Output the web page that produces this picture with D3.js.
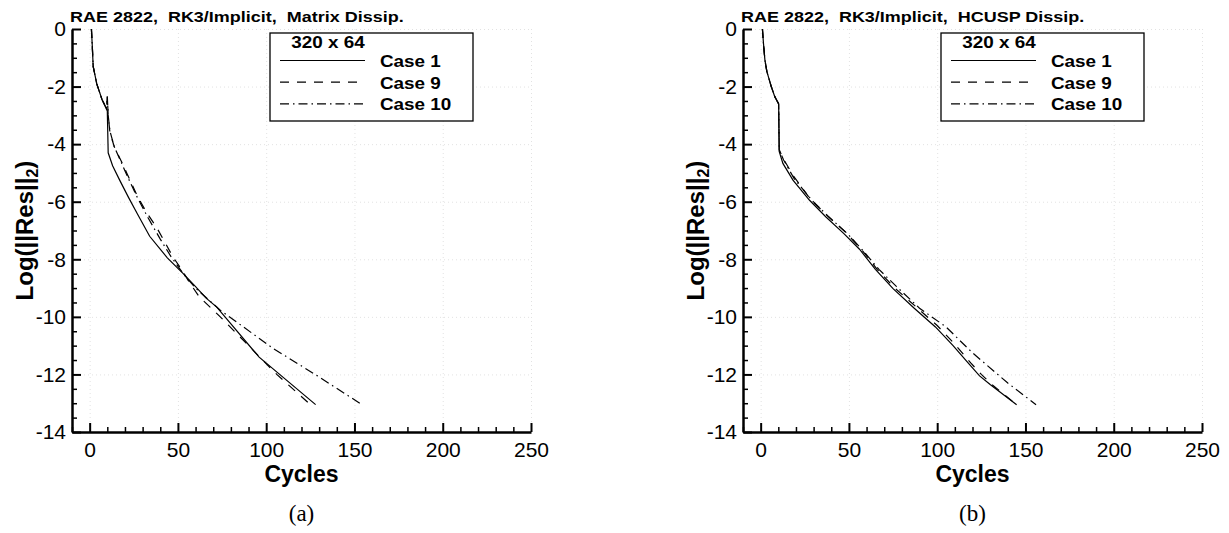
<!DOCTYPE html>
<html>
<head>
<meta charset="utf-8">
<title>RAE 2822 convergence</title>
<script src="https://cdn.jsdelivr.net/npm/d3@7"></script>
<style>
  body { margin: 0; background: #fff; }
  svg { display: block; font-family: Arial, "Liberation Sans", Helvetica, sans-serif; }
  .grid line { stroke: #e2e2e2; stroke-dasharray: 1,3; }
  .grid path { display: none; }
  .curve { fill: none; stroke: #000; stroke-width: 1.2; }
  .pre { white-space: pre; }
</style>
</head>
<body>
<script>
// ---- data ----
var caseNames = ["Case 1", "Case 9", "Case 10"];
var xTicks = [0, 50, 100, 150, 200, 250];
var yTicks = [0, -2, -4, -6, -8, -10, -12, -14];
var panelTitles = ["RAE 2822,  RK3/Implicit,  Matrix Dissip.", "RAE 2822,  RK3/Implicit,  HCUSP Dissip."];
var panelCaptions = ["(a)", "(b)"];
var legendHeader = "320 x 64";

// [cycle, log10 residual]
var matrixCase1 = [[1,0],[1.5,-0.6],[2,-1.3],[4,-1.9],[7,-2.45],[10,-2.85],[10.5,-4.3],[13,-4.75],[17,-5.25],[22,-5.85],[27,-6.42],[34,-7.2],[44,-7.95],[53,-8.5],[60,-8.95],[66,-9.35],[72,-9.66],[96,-11.4],[128,-13.05]];
var matrixCase9 = [[1,0],[1.5,-0.6],[2,-1.3],[4,-1.9],[7,-2.45],[9.5,-2.75],[10,-2.35],[10.5,-3.0],[11.5,-3.6],[14,-4.1],[18,-4.6],[21,-5.0],[27,-5.8],[32,-6.35],[38,-6.9],[43,-7.45],[47,-7.9],[52,-8.35],[56,-8.75],[62,-9.3],[74,-10.0],[90,-11.0],[106,-12.0],[126,-13.1]];
var matrixCase10 = [[1,0],[1.5,-0.6],[2,-1.3],[4,-1.9],[7,-2.45],[9.5,-2.75],[10,-2.35],[10.5,-3.0],[11.5,-3.55],[14,-4.1],[18,-4.65],[22,-5.2],[27,-5.85],[33,-6.55],[40,-7.3],[46,-7.9],[53,-8.5],[60,-9.0],[74,-9.77],[104,-11.1],[129,-12.05],[153,-13.0]];

var hcuspCase1 = [[1,0],[1.6,-0.5],[2.4,-1.07],[3.5,-1.47],[6,-2.0],[8,-2.35],[10.2,-2.6],[10.5,-4.25],[12.6,-4.67],[18.3,-5.25],[27.7,-5.95],[37,-6.53],[47,-7.1],[56,-7.65],[65,-8.35],[75,-9.02],[87,-9.7],[99,-10.35],[109,-11.0],[118,-11.63],[124,-12.05],[130,-12.35],[145,-13.05]];
var hcuspCase9 = [[1,0],[1.6,-0.5],[2.4,-1.07],[3.5,-1.47],[6,-2.0],[8,-2.35],[10.2,-2.6],[10.5,-4.2],[12.8,-4.5],[18.5,-5.1],[28,-5.9],[38,-6.5],[48,-7.05],[57,-7.65],[66,-8.35],[76,-9.0],[88,-9.65],[100,-10.3],[110,-10.95],[119,-11.6],[125,-12.0],[131,-12.35],[145,-13.05]];
var hcuspCase10 = [[1,0],[1.6,-0.5],[2.4,-1.07],[3.5,-1.47],[6,-2.0],[8,-2.35],[10.2,-2.6],[10.5,-4.2],[13,-4.55],[19,-5.2],[29,-5.95],[39,-6.55],[49,-7.1],[58,-7.7],[67,-8.35],[77,-8.95],[90,-9.7],[105,-10.35],[120,-11.25],[140,-12.3],[156,-13.05]];

var panelSeries = [[matrixCase1, matrixCase9, matrixCase10], [hcuspCase1, hcuspCase9, hcuspCase10]];
var dashes = [null, "9,8", "9,4,1.5,4"];

// ---- layout ----
var W = 1229, H = 533;
var plotW = 459, plotH = 403;
var origins = [[72, 29], [743, 29]];

var svg = d3.select("body").append("svg").attr("width", W).attr("height", H);

function stretchText(g, x, y, sx, txt) {
  return g.append("text")
    .attr("class", "pre")
    .attr("transform", "translate(" + x + "," + y + ") scale(" + sx + ",1)")
    .text(txt);
}

function plain(d) { return String(d); }   // keep ASCII hyphen minus like the original

panelSeries.forEach(function(series, p) {
  var g = svg.append("g").attr("transform", "translate(" + origins[p][0] + "," + origins[p][1] + ")");

  var x = d3.scaleLinear().domain([-10, 250]).range([0, plotW]);
  var y = d3.scaleLinear().domain([-14, 0]).range([plotH, 0]);

  // faint dotted grid at major ticks
  g.append("g").attr("class", "grid")
    .call(d3.axisBottom(x).tickValues(xTicks).tickSize(plotH).tickFormat(""));
  g.append("g").attr("class", "grid")
    .call(d3.axisLeft(y).tickValues(yTicks).tickSize(-plotW).tickFormat(""));

  // curves
  var line = d3.line().x(function(d) { return x(d[0]); }).y(function(d) { return y(d[1]); });
  series.forEach(function(s, i) {
    g.append("path").attr("class", "curve").attr("d", line(s))
      .attr("stroke-dasharray", dashes[i]);
  });

  // minor ticks
  var xMinor = d3.range(-10, 251, 10).filter(function(v) { return v % 50 !== 0; });
  var yMinor = d3.range(-14, 0.01, 0.5).filter(function(v) { return v % 2 !== 0; });
  g.append("g").attr("transform", "translate(0," + plotH + ")")
    .call(d3.axisBottom(x).tickValues(xMinor).tickSize(-5).tickFormat(""))
    .call(function(a) { a.select(".domain").remove(); a.selectAll("line").attr("stroke-width", 1.5); });
  g.append("g")
    .call(d3.axisLeft(y).tickValues(yMinor).tickSize(-5).tickFormat(""))
    .call(function(a) { a.select(".domain").remove(); a.selectAll("line").attr("stroke-width", 1.5); });

  // major axes
  var xa = g.append("g").attr("transform", "translate(0," + plotH + ")")
    .call(d3.axisBottom(x).tickValues(xTicks).tickFormat(plain).tickSizeInner(-9).tickSizeOuter(0).tickPadding(6));
  var ya = g.append("g")
    .call(d3.axisLeft(y).tickValues(yTicks).tickFormat(plain).tickSizeInner(-9).tickSizeOuter(0).tickPadding(6));
  [xa, ya].forEach(function(a) {
    a.select(".domain").attr("stroke-width", 2.5);
    a.selectAll(".tick line").attr("stroke-width", 2);
    a.selectAll("text").attr("font-size", 21).attr("fill", "#000")
      .attr("font-family", "Arial, 'Liberation Sans', sans-serif");
  });
  xa.selectAll("text").attr("dy", "0.9em");

  // axis titles
  g.append("text")
    .attr("x", plotW / 2).attr("y", plotH + 50)
    .attr("text-anchor", "middle").attr("font-size", 23).attr("font-weight", "bold")
    .text("Cycles");
  var yl = g.append("text")
    .attr("transform", "translate(" + (-origins[0][0] + 33) + "," + (plotH / 2) + ") rotate(-90)")
    .attr("text-anchor", "middle").attr("font-size", 24).attr("font-weight", "bold");
  yl.append("tspan").text("Log(||Res||");
  yl.append("tspan").attr("font-size", 16).attr("dy", 5).text("2");
  yl.append("tspan").attr("dy", -5).text(")");

  // title
  stretchText(g, -2, -7, 1.24, panelTitles[p])
    .attr("font-size", 14.5).attr("font-weight", "bold");

  // legend
  var lg = g.append("g").attr("transform", "translate(198,4)");
  lg.append("rect").attr("width", 203).attr("height", 88)
    .attr("fill", "#fff").attr("stroke", "#000").attr("stroke-width", 1.3);
  stretchText(lg, 58, 15, 1.18, legendHeader)
    .attr("font-size", 16).attr("font-weight", "bold").attr("text-anchor", "middle");
  caseNames.forEach(function(name, i) {
    var ly = 27.5 + i * 21.7;
    lg.append("line").attr("class", "curve")
      .attr("x1", 10).attr("x2", 95).attr("y1", ly).attr("y2", ly)
      .attr("stroke-dasharray", dashes[i]);
    stretchText(lg, 110, ly + 6.5, 1.18, name)
      .attr("font-size", 16).attr("font-weight", "bold");
  });

  // caption
  g.append("text")
    .attr("x", plotW / 2).attr("y", plotH + 89)
    .attr("text-anchor", "middle").attr("font-size", 23)
    .attr("font-family", "'Liberation Serif', 'DejaVu Serif', serif")
    .text(panelCaptions[p]);
});
</script>
</body>
</html>
